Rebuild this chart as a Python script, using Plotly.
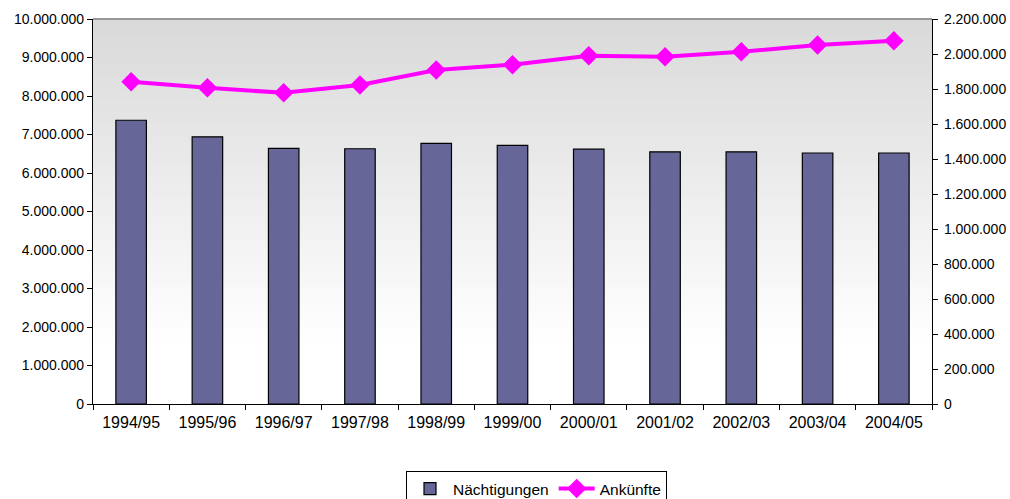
import plotly.graph_objects as go

# Winter seasons and the two tourism series
seasons = ["1994/95", "1995/96", "1996/97", "1997/98", "1998/99", "1999/00",
           "2000/01", "2001/02", "2002/03", "2003/04", "2004/05"]
naechtigungen = [7370000, 6940000, 6640000, 6630000, 6770000, 6720000,
                 6620000, 6550000, 6550000, 6520000, 6520000]
ankuenfte = [1842000, 1807000, 1778000, 1823000, 1909000, 1939000,
             1990000, 1985000, 2013000, 2051000, 2076000]

W, H = 1010, 499
# plot area in pixels: left, right, top, bottom
PL, PR, PT, PB = 93, 932, 19, 404
LEG_TOP = 471  # legend box top; the space below it is reserved by the legend
HA = LEG_TOP    # height left for the axes once the legend space is reserved

fig = go.Figure()

fig.add_trace(go.Bar(
    x=seasons, y=naechtigungen, name="Nächtigungen",
    marker=dict(color="#666699", line=dict(color="#000000", width=1.2)),
    yaxis="y",
))
fig.add_trace(go.Scatter(
    x=seasons, y=ankuenfte, name="Ankünfte", mode="lines+markers",
    line=dict(color="#FF00FF", width=4),
    marker=dict(symbol="diamond", size=15, color="#FF00FF"),
    yaxis="y2",
))

# vertical grey-to-white gradient behind the plot area
shapes = []
n = 80
top = (217, 217, 217)
for i in range(n):
    t0 = i / n
    t1 = (i + 1) / n
    f = min(1.0, ((t0 + t1) / 2) / 0.85)  # 0 at the top edge, 1 near the bottom
    c = tuple(round(top[k] + (255 - top[k]) * f) for k in range(3))
    shapes.append(dict(type="rect", xref="x domain", yref="y domain",
                       x0=0, x1=1, y0=1 - t1, y1=1 - t0 + 0.002,
                       fillcolor="rgb(%d,%d,%d)" % c, line=dict(width=0),
                       layer="below"))
shapes.append(dict(type="line", xref="x domain", yref="y domain",
                   x0=0, x1=1, y0=1, y1=1,
                   line=dict(color="#808080", width=1.5), layer="above"))

font = dict(family="Liberation Sans, Arial, sans-serif", color="#000000")
xdom = [PL / W, PR / W]
ydom = [(HA - PB) / HA, (HA - PT) / HA]

fig.update_layout(
    width=W, height=H,
    margin=dict(l=0, r=0, t=0, b=0),
    paper_bgcolor="#FFFFFF", plot_bgcolor="#FFFFFF",
    separators=",.",
    bargap=0.6,
    font=dict(**font, size=14),
    shapes=shapes,
    showlegend=True,
    legend=dict(orientation="h", xref="paper", yref="container",
                x=536.5 / W, xanchor="center", y=(H - LEG_TOP) / H,
                yanchor="top", bordercolor="#000000", borderwidth=1,
                font=dict(**font, size=15.5), bgcolor="#FFFFFF",
                itemwidth=36, tracegroupgap=0),
    xaxis=dict(type="category", range=[-0.5, len(seasons) - 0.5], domain=xdom,
               showline=True, linecolor="#000000",
               linewidth=1.2, ticks="outside", ticklen=5, tickcolor="#000000",
               tickson="boundaries", showgrid=False, zeroline=False,
               ticklabelstandoff=4,
               automargin=False, tickfont=dict(**font, size=16)),
    yaxis=dict(range=[0, 10000000], dtick=1000000, tickformat=",d", domain=ydom,
               showline=True, linecolor="#000000", linewidth=1.2,
               ticks="outside", ticklen=5, tickcolor="#000000",
               showgrid=False, zeroline=False, automargin=False,
               tickfont=dict(**font, size=14)),
    yaxis2=dict(range=[0, 2200000], dtick=200000, tickformat=",d",
                overlaying="y", side="right",
                showline=True, linecolor="#000000", linewidth=1.2,
                ticks="outside", ticklen=5, tickcolor="#000000",
                showgrid=False, zeroline=False, automargin=False,
                ticklabelstandoff=3,
                tickfont=dict(**font, size=14)),
)

fig.write_html("out.html")
